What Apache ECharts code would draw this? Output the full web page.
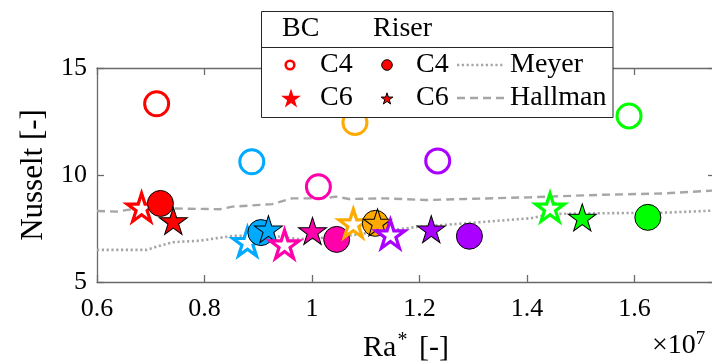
<!DOCTYPE html>
<html><head><meta charset="utf-8">
<script src="https://cdn.jsdelivr.net/npm/echarts@6/dist/echarts.min.js"></script>
<style>html,body{margin:0;padding:0;background:#fff}#c{width:712px;height:364px}</style>
</head><body><div id="c"></div>
<script>
// ---- data ----
const caseColors = ['#ff0000', '#00aaff', '#ff00aa', '#ffaa00', '#aa00ff', '#00ff00'];

const bcC4Ra = [0.711, 0.888, 1.012, 1.080, 1.234, 1.590];
const bcC4Nu = [13.33, 10.62, 9.45, 12.45, 10.66, 12.76];

const bcC6Ra = [0.683, 0.880, 0.949, 1.077, 1.146, 1.443];
const bcC6Nu = [8.44, 6.83, 6.72, 7.70, 7.19, 8.44];

const riserC4Ra = [0.718, 0.905, 1.046, 1.118, 1.293, 1.625];
const riserC4Nu = [8.67, 7.31, 6.99, 7.74, 7.14, 8.02];

const riserC6Ra = [0.742, 0.919, 1.001, 1.122, 1.222, 1.503];
const riserC6Nu = [7.81, 7.42, 7.34, 7.74, 7.42, 7.97];

const meyerRa = [0.600, 0.692, 0.711, 0.741, 0.791, 0.852, 0.915, 0.976, 1.056, 1.100, 1.198, 1.285, 1.407, 1.444, 1.532, 1.656, 1.750];
const meyerNu = [6.50, 6.50, 6.65, 6.86, 6.93, 7.15, 7.20, 7.00, 7.12, 7.28, 7.58, 7.74, 7.98, 8.18, 8.21, 8.24, 8.34];

const hallmanRa = [0.600, 0.637, 0.674, 0.735, 0.828, 0.852, 0.926, 0.963, 1.026, 1.044, 1.069, 1.137, 1.211, 1.285, 1.407, 1.532, 1.656, 1.750];
const hallmanNu = [8.32, 8.29, 8.44, 8.44, 8.40, 8.52, 8.64, 8.91, 8.91, 8.99, 8.88, 8.91, 8.83, 8.88, 8.96, 9.07, 9.14, 9.28];

const legendHeaders = ['BC', 'Riser'];
const legendRowLabels = ['C4', 'C6'];
const lineNames = ['Meyer', 'Hallman'];

// ---- styling helpers ----
const FONT = 'Liberation Serif';
const STAR = 'path://M100 0 L122.45 69.1 L195.11 69.1 L136.33 111.8 L158.78 180.9 L100 138.2 L41.22 180.9 L63.67 111.8 L4.89 69.1 L77.55 69.1 Z';
const GREY = '#a6a6a6';
const AXIS = '#6a6a6a';

function pairs(xs, ys) { return xs.map((x, i) => [x, ys[i]]); }

const series = [
  { type: 'line', name: lineNames[0], data: pairs(meyerRa, meyerNu), symbol: 'none', silent: true,
    lineStyle: { color: GREY, width: 2.6, type: [2.2, 2.6], cap: 'butt' }, z: 1 },
  { type: 'line', name: lineNames[1], data: pairs(hallmanRa, hallmanNu), symbol: 'none', silent: true,
    lineStyle: { color: GREY, width: 2.4, type: [8, 5], cap: 'butt' }, z: 1 }
];

for (let i = 0; i < caseColors.length; i++) {
  const c = caseColors[i];
  series.push({ type: 'scatter', data: [[bcC4Ra[i], bcC4Nu[i]]], symbol: 'circle', symbolSize: 24,
    itemStyle: { color: 'rgba(0,0,0,0)', borderColor: c, borderWidth: 3, opacity: 1 }, z: 2 });
  series.push({ type: 'scatter', data: [[bcC6Ra[i], bcC6Nu[i]]], symbol: STAR, symbolSize: [29, 28], symbolOffset: [0, -1],
    itemStyle: { color: '#ffffff', borderColor: c, borderWidth: 3.2, opacity: 1 }, z: 2 });
  series.push({ type: 'scatter', data: [[riserC4Ra[i], riserC4Nu[i]]], symbol: 'circle', symbolSize: 26,
    itemStyle: { color: c, borderColor: '#000', borderWidth: 1, opacity: 1 }, z: 2 });
  series.push({ type: 'scatter', data: [[riserC6Ra[i], riserC6Nu[i]]], symbol: STAR, symbolSize: [28, 27], symbolOffset: [0, -1],
    itemStyle: { color: c, borderColor: '#000', borderWidth: 1, opacity: 1 }, z: 2 });
}

function starPts(cx, cy, R) {
  const pts = [];
  for (let k = 0; k < 10; k++) {
    const r = k % 2 === 0 ? R : R * 0.382;
    const a = k * Math.PI / 5;
    pts.push([cx + r * Math.sin(a), cy - r * Math.cos(a)]);
  }
  return pts;
}
function txt(s, x, y, size) {
  return { type: 'text', z: 101, style: { text: s, x: x, y: y, fontSize: size || 28, fontFamily: FONT,
    fill: '#000', textAlign: 'left', align: 'left', textVerticalAlign: 'middle', verticalAlign: 'middle' } };
}

const legendGraphic = [
  { type: 'rect', z: 100, shape: { x: 261.5, y: 11.5, width: 351.5, height: 106 },
    style: { fill: '#fff', stroke: '#262626', lineWidth: 1 } },
  { type: 'line', z: 101, shape: { x1: 261.5, y1: 47.5, x2: 613, y2: 47.5 }, style: { stroke: '#262626', lineWidth: 1 } },
  txt(legendHeaders[0], 282, 29), txt(legendHeaders[1], 373, 29),
  { type: 'circle', z: 101, shape: { cx: 290, cy: 65, r: 4.3 }, style: { fill: 'none', stroke: '#ff0000', lineWidth: 2.6 } },
  txt(legendRowLabels[0], 320, 65),
  { type: 'circle', z: 101, shape: { cx: 387, cy: 65, r: 5.3 }, style: { fill: '#ff0000', stroke: '#000', lineWidth: 1 } },
  txt(legendRowLabels[0], 416, 65),
  { type: 'line', z: 101, shape: { x1: 457, y1: 65, x2: 505, y2: 65 }, style: { stroke: GREY, lineWidth: 2.6, lineDash: [2.2, 2.6] } },
  txt(lineNames[0], 510, 65),
  { type: 'polygon', z: 101, shape: { points: starPts(291, 99, 10.5) }, style: { fill: '#ff0000' } },
  txt(legendRowLabels[1], 320, 98),
  { type: 'polygon', z: 101, shape: { points: starPts(387, 99, 6.2) }, style: { fill: '#ff0000', stroke: '#000', lineWidth: 1 } },
  txt(legendRowLabels[1], 416, 98),
  { type: 'line', z: 101, shape: { x1: 457, y1: 98, x2: 505, y2: 98 }, style: { stroke: GREY, lineWidth: 2.4, lineDash: [8, 5] } },
  txt(lineNames[1], 510, 98),
  { type: 'text', z: 101, style: { text: '{m|×10}{s|7}', x: 652, y: 346, fontSize: 28, fontFamily: FONT,
      rich: { m: { fontSize: 28, fontFamily: FONT, fill: '#000' }, s: { fontSize: 19, fontFamily: FONT, fill: '#000', padding: [0, 0, 14, 0] } },
      textAlign: 'left', align: 'left', textVerticalAlign: 'middle', verticalAlign: 'middle' } }
];

const axisCommon = {
  axisLine: { show: true, lineStyle: { color: AXIS, width: 1.3 } },
  axisTick: { show: true, inside: true, length: 7, lineStyle: { color: AXIS, width: 1.3 } },
  splitLine: { show: false }
};

const option = {
  animation: false,
  backgroundColor: '#fff',
  textStyle: { fontFamily: FONT },
  grid: { left: 97, right: -3, top: 68, bottom: 82, containLabel: false, outerBoundsMode: 'none' },
  xAxis: [
    Object.assign({}, axisCommon, {
      type: 'value', min: 0.6, max: 1.75, interval: 0.2, position: 'bottom',
      axisLabel: { show: true, margin: 14, color: '#000', fontFamily: FONT, fontSize: 26, showMaxLabel: false,
        formatter: v => String(Math.round(v * 10) / 10) },
      name: '{n|Ra}{s|*}{n| [-]}', nameLocation: 'middle', nameGap: 49,
      nameTextStyle: { fontFamily: FONT, fontSize: 30, color: '#000',
        rich: { n: { fontFamily: FONT, fontSize: 30, color: '#000' },
                s: { fontFamily: FONT, fontSize: 20, color: '#000', padding: [0, 4, 14, 1] } } }
    }),
    Object.assign({}, axisCommon, {
      type: 'value', min: 0.6, max: 1.75, interval: 0.2, position: 'top', axisLabel: { show: false }
    })
  ],
  yAxis: [
    Object.assign({}, axisCommon, {
      type: 'value', min: 5, max: 15, interval: 5, position: 'left',
      axisLabel: { show: true, margin: 10, color: '#000', fontFamily: FONT, fontSize: 26 },
      name: 'Nusselt [-]', nameLocation: 'middle', nameGap: 48, nameRotate: 90,
      nameTextStyle: { fontFamily: FONT, fontSize: 31, color: '#000' }
    }),
    Object.assign({}, axisCommon, {
      type: 'value', min: 5, max: 15, interval: 5, position: 'right', axisLabel: { show: false }
    })
  ],
  series: series,
  graphic: legendGraphic
};

const chart = echarts.init(document.getElementById('c'), null, { renderer: 'canvas' });
chart.setOption(option);
</script></body></html>
